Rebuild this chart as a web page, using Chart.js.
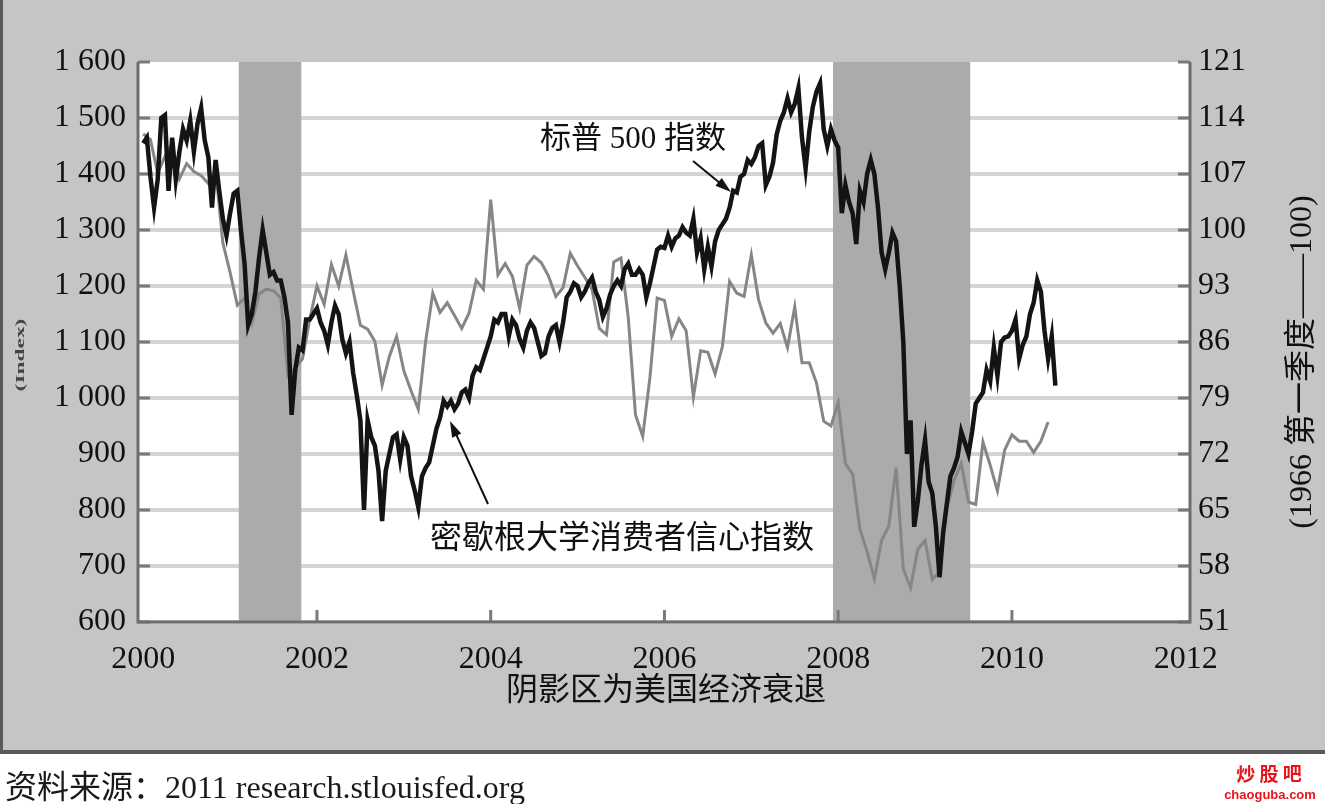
<!DOCTYPE html>
<html lang="zh-CN">
<head>
<meta charset="utf-8">
<script src="https://cdn.jsdelivr.net/npm/chart.js@4.4.1/dist/chart.umd.min.js"></script>
<style>
  html, body { margin: 0; padding: 0; background: #fff; }
  canvas { display: block; }
</style>
</head>
<body>
<canvas id="chart" width="1331" height="804" style="width:1331px;height:804px"></canvas>
<script>
// S&P 500, two readings per month (1st and mid-month)
const sp2000 = [1455, 1465, 1395, 1340, 1390, 1500, 1505, 1370, 1465, 1390, 1440, 1480, 1460, 1495, 1440, 1490, 1518, 1460, 1430, 1340, 1425, 1370, 1320, 1290];
const sp2001 = [1330, 1365, 1370, 1300, 1240, 1130, 1150, 1190, 1250, 1300, 1260, 1220, 1225, 1210, 1210, 1180, 1135, 970, 1050, 1090, 1085, 1140, 1140, 1150];
const sp2002 = [1160, 1135, 1120, 1095, 1135, 1165, 1150, 1105, 1080, 1100, 1045, 1005, 960, 800, 960, 930, 915, 870, 780, 870, 900, 930, 935, 890];
const sp2003 = [930, 915, 860, 835, 805, 860, 875, 885, 915, 945, 965, 995, 985, 995, 980, 990, 1010, 1015, 1000, 1040, 1055, 1050, 1070, 1090];
const sp2004 = [1110, 1140, 1135, 1150, 1150, 1110, 1140, 1130, 1105, 1090, 1120, 1135, 1125, 1100, 1075, 1080, 1110, 1125, 1130, 1100, 1135, 1180, 1190, 1205];
const sp2005 = [1200, 1180, 1190, 1205, 1215, 1190, 1175, 1145, 1160, 1185, 1200, 1210, 1200, 1230, 1240, 1220, 1220, 1230, 1220, 1180, 1205, 1235, 1265, 1270];
const sp2006 = [1268, 1290, 1270, 1285, 1290, 1305, 1295, 1290, 1320, 1260, 1285, 1230, 1270, 1235, 1280, 1300, 1310, 1320, 1340, 1370, 1367, 1395, 1400, 1425];
const sp2007 = [1418, 1430, 1450, 1455, 1380, 1395, 1420, 1470, 1495, 1510, 1535, 1510, 1525, 1553, 1465, 1410, 1475, 1520, 1547, 1562, 1480, 1450, 1480, 1460];
const sp2008 = [1447, 1330, 1380, 1350, 1330, 1275, 1370, 1350, 1400, 1425, 1400, 1340, 1260, 1230, 1260, 1295, 1280, 1200, 1100, 900, 960, 770, 816, 880];
const sp2009 = [925, 850, 830, 770, 680, 760, 810, 860, 875, 895, 940, 920, 900, 940, 990, 1000, 1010, 1050, 1030, 1090, 1040, 1100, 1108, 1110];
const sp2010 = [1120, 1140, 1070, 1095, 1110, 1150, 1170, 1210, 1190, 1120, 1070, 1110, 1022];

// Michigan consumer sentiment, monthly (1966 Q1 = 100)
const mi2000 = [112.0, 111.3, 107.1, 109.2, 110.7, 106.4, 108.3, 107.3, 106.8, 105.8, 107.6, 98.4];
const mi2001 = [94.7, 90.6, 91.5, 88.4, 92.0, 92.6, 92.4, 91.5, 81.8, 82.7, 83.9, 88.8];
const mi2002 = [93.0, 90.7, 95.7, 93.0, 96.9, 92.4, 88.1, 87.6, 86.1, 80.6, 84.2, 86.7];
const mi2003 = [82.4, 79.9, 77.6, 86.0, 92.1, 89.7, 90.9, 89.3, 87.7, 89.6, 93.7, 92.6];
const mi2004 = [103.8, 94.4, 95.8, 94.2, 90.2, 95.6, 96.7, 95.9, 94.2, 91.7, 92.8, 97.1];
const mi2005 = [95.5, 94.1, 92.6, 87.7, 86.9, 96.0, 96.5, 89.1, 76.9, 74.2, 81.6, 91.5];
const mi2006 = [91.2, 86.7, 88.9, 87.4, 79.1, 84.9, 84.7, 82.0, 85.4, 93.6, 92.1, 91.7];
const mi2007 = [96.9, 91.3, 88.4, 87.1, 88.3, 85.3, 90.4, 83.4, 83.4, 80.9, 76.1, 75.5];
const mi2008 = [78.4, 70.8, 69.5, 62.6, 59.8, 56.4, 61.2, 63.0, 70.3, 57.6, 55.3, 60.1];
const mi2009 = [61.2, 56.3, 57.3, 65.1, 68.7, 70.8, 66.0, 65.7, 73.5, 70.6, 67.4, 72.5];
const mi2010 = [74.4, 73.6, 73.6, 72.2, 73.6, 76.0];

const years = [2000, 2001, 2002, 2003, 2004, 2005, 2006, 2007, 2008, 2009, 2010];
const xTicks = [2000, 2002, 2004, 2006, 2008, 2010, 2012];
const recessions = [[2001.10, 2001.82], [2007.94, 2009.52]];

const spLabel = '标普 500 指数';
const miLabel = '密歇根大学消费者信心指数';
const shadeNote = '阴影区为美国经济衰退';
const rightTitle = '(1966 第一季度——100)';
const leftTitle = '(Index)';
const sourceNote = '资料来源：2011 research.stlouisfed.org';

const SERIF = '"Liberation Serif", "Noto Sans CJK SC", serif';

// 1. BUILD POINTS
const spPoints = [];
[sp2000, sp2001, sp2002, sp2003, sp2004, sp2005, sp2006, sp2007, sp2008, sp2009, sp2010]
  .forEach((vals, k) => vals.forEach((v, i) => spPoints.push({ x: years[k] + i / 24, y: v })));

const miPoints = [];
[mi2000, mi2001, mi2002, mi2003, mi2004, mi2005, mi2006, mi2007, mi2008, mi2009, mi2010]
  .forEach((vals, k) => vals.forEach((v, i) => miPoints.push({ x: years[k] + i / 12, y: v })));

function arrow(c, x1, y1, x2, y2) {
  const ang = Math.atan2(y2 - y1, x2 - x1);
  const len = 16, half = 5;
  c.strokeStyle = '#111';
  c.fillStyle = '#111';
  c.lineWidth = 2;
  c.beginPath();
  c.moveTo(x1, y1);
  c.lineTo(x2 - Math.cos(ang) * len * 0.8, y2 - Math.sin(ang) * len * 0.8);
  c.stroke();
  c.beginPath();
  c.moveTo(x2, y2);
  c.lineTo(x2 - Math.cos(ang) * len - Math.sin(ang) * half, y2 - Math.sin(ang) * len + Math.cos(ang) * half);
  c.lineTo(x2 - Math.cos(ang) * len + Math.sin(ang) * half, y2 - Math.sin(ang) * len - Math.cos(ang) * half);
  c.closePath();
  c.fill();
}

// 2. FRAME, SHADING AND TEXT
const frame = {
  id: 'frame',
  beforeDraw(chart) {
    const c = chart.ctx, a = chart.chartArea;
    c.save();
    c.fillStyle = '#fff';
    c.fillRect(0, 0, chart.width, chart.height);
    c.fillStyle = '#c5c5c5';
    c.fillRect(0, 0, 1325, 752);
    c.fillStyle = '#5a5a5a';
    c.fillRect(0, 0, 3, 754);
    c.fillRect(0, 750, 1325, 4);
    c.fillStyle = '#fff';
    c.fillRect(a.left, a.top, a.right - a.left, a.bottom - a.top);
    c.restore();
  },
  beforeDatasetsDraw(chart) {
    const c = chart.ctx, a = chart.chartArea;
    const xs = chart.scales.x, yl = chart.scales.y, yr = chart.scales.y2;
    c.save();
    c.fillStyle = '#ababab';
    recessions.forEach(([s, e]) => {
      const x1 = xs.getPixelForValue(s), x2 = xs.getPixelForValue(e);
      c.fillRect(x1, a.top, x2 - x1, a.bottom - a.top);
    });
    // small inner ticks
    c.strokeStyle = '#7a7a7a';
    c.lineWidth = 3;
    yl.ticks.forEach(t => {
      const y = yl.getPixelForValue(t.value);
      c.beginPath(); c.moveTo(a.left, y); c.lineTo(a.left + 12, y); c.stroke();
    });
    yr.ticks.forEach(t => {
      const y = yr.getPixelForValue(t.value);
      c.beginPath(); c.moveTo(a.right - 12, y); c.lineTo(a.right, y); c.stroke();
    });
    xTicks.slice(1, -1).forEach(v => {
      const x = xs.getPixelForValue(v);
      c.beginPath(); c.moveTo(x, a.bottom - 12); c.lineTo(x, a.bottom); c.stroke();
    });
    // axis lines
    c.strokeStyle = '#6e6e6e';
    c.beginPath();
    c.moveTo(a.left, a.top); c.lineTo(a.left, a.bottom);
    c.lineTo(a.right, a.bottom); c.lineTo(a.right, a.top);
    c.stroke();
    c.restore();
  },
  afterDraw(chart) {
    const c = chart.ctx;
    c.save();
    c.fillStyle = '#111';
    c.textBaseline = 'middle';

    c.font = '31px ' + SERIF;
    c.textAlign = 'left';
    c.fillText(spLabel, 540, 140);
    arrow(c, 693, 161, 731, 192);

    c.font = '32px ' + SERIF;
    c.fillText(miLabel, 430, 540);
    arrow(c, 488, 504, 450, 421);

    c.textAlign = 'center';
    c.fillText(shadeNote, 666, 692);

    c.save();
    c.translate(1303, 362);
    c.rotate(-Math.PI / 2);
    c.font = '32px ' + SERIF;
    c.fillText(rightTitle, 0, 0);
    c.restore();

    c.save();
    c.translate(21, 355);
    c.rotate(-Math.PI / 2);
    c.scale(1.8, 1);
    c.font = 'bold 13px ' + SERIF;
    c.fillStyle = '#444';
    c.fillText(leftTitle, 0, 0);
    c.restore();

    c.textAlign = 'left';
    c.textBaseline = 'alphabetic';
    c.font = '32px ' + SERIF;
    c.fillStyle = '#1a1a1a';
    c.fillText(sourceNote, 5, 798);

    c.fillStyle = '#e8141b';
    c.textAlign = 'center';
    c.font = 'bold 19px "Noto Sans CJK SC", sans-serif';
    c.fillText('炒 股 吧', 1269, 781);
    c.font = 'bold 13px "Liberation Sans", sans-serif';
    c.fillText('chaoguba.com', 1270, 799);
    c.restore();
  }
};

// 3. CHART
const ctx = document.getElementById('chart').getContext('2d');
const chart = new Chart(ctx, {
  type: 'line',
  data: {
    datasets: [
      {
        label: spLabel,
        data: spPoints,
        yAxisID: 'y',
        borderColor: '#141414',
        borderWidth: 4.5,
        pointRadius: 0,
        tension: 0
      },
      {
        label: miLabel,
        data: miPoints,
        yAxisID: 'y2',
        borderColor: '#868686',
        borderWidth: 3,
        pointRadius: 0,
        tension: 0
      }
    ]
  },
  options: {
    responsive: false,
    animation: false,
    layout: { padding: { top: 62, left: 0, right: 0, bottom: 0 } },
    plugins: {
      legend: { display: false },
      tooltip: { enabled: false }
    },
    scales: {
      x: {
        type: 'linear',
        min: 1999.94,
        max: 2012.05,
        afterBuildTicks: s => { s.ticks = xTicks.map(v => ({ value: v })); },
        afterFit: s => { s.height = 182; },
        grid: { display: false, drawTicks: false },
        border: { display: false },
        ticks: {
          color: '#111',
          padding: 18,
          maxRotation: 0,
          autoSkip: false,
          font: { family: SERIF, size: 32 },
          callback: v => String(v)
        }
      },
      y: {
        type: 'linear',
        position: 'left',
        min: 600,
        max: 1600,
        afterFit: s => { s.width = 138; },
        grid: {
          drawTicks: false,
          lineWidth: 4,
          color: c => (c.tick && c.tick.value === 1600) ? 'rgba(0,0,0,0)' : '#d4d4d4'
        },
        border: { display: false },
        ticks: {
          stepSize: 100,
          color: '#111',
          padding: 12,
          font: { family: SERIF, size: 32 },
          callback: v => v >= 1000 ? Math.floor(v / 1000) + ' ' + String(v % 1000).padStart(3, '0') : String(v)
        }
      },
      y2: {
        type: 'linear',
        position: 'right',
        min: 51,
        max: 121,
        afterFit: s => { s.width = 141; },
        grid: { drawOnChartArea: false, drawTicks: false },
        border: { display: false },
        ticks: {
          stepSize: 7,
          color: '#111',
          padding: 8,
          font: { family: SERIF, size: 32 }
        }
      }
    }
  },
  plugins: [frame]
});
</script>
</body>
</html>
